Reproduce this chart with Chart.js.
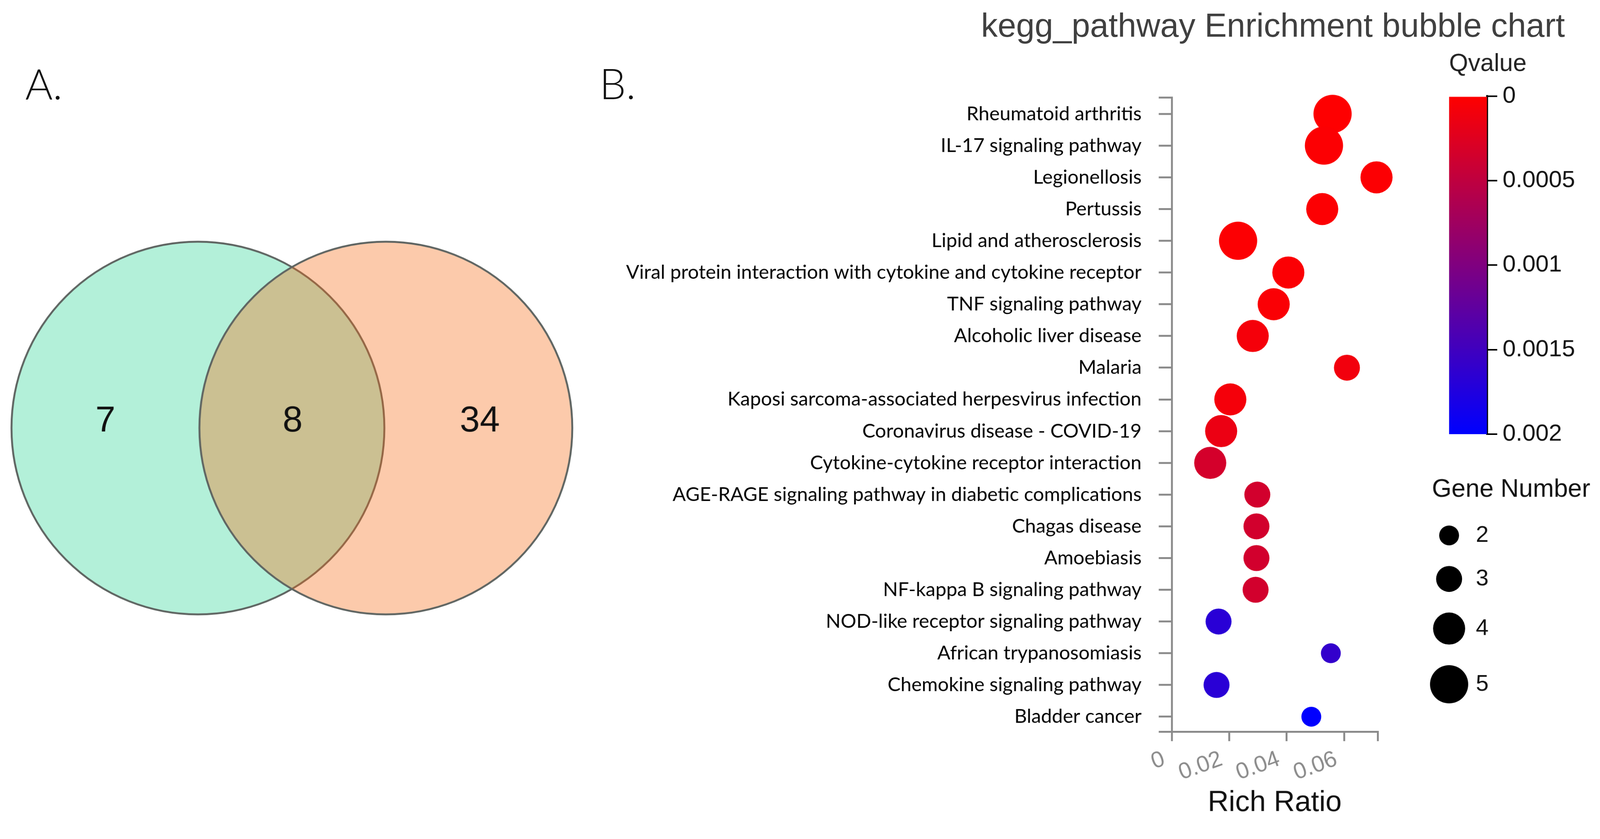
<!DOCTYPE html>
<html>
<head>
<meta charset="utf-8">
<script src="https://cdn.jsdelivr.net/npm/chart.js@4/dist/chart.umd.min.js"></script>
<style>
  html, body { margin: 0; padding: 0; background: #ffffff; overflow: hidden; width: 100%; height: 100%; }
  #stage { position: absolute; left: 0; top: 0; width: 4188px; height: 2149px; transform-origin: 0 0; background: #fff; }
  .box { position: absolute; }
  .txt { position: absolute; line-height: 1; white-space: nowrap; }
  .panel { font-family: 'Lato', sans-serif; font-weight: 300; font-size: 110px; color: #111; }
</style>
</head>
<body>
<div id="stage">
  <div class="txt panel" style="left:66px; top:163px;">A.</div>
  <div class="txt panel" style="left:1569px; top:162px;">B.</div>
  <div class="txt" style="left:2332px; width:2000px; top:22px; text-align:center; font-family:'Liberation Sans', Arial, sans-serif; font-size:87px; color:#404040;">kegg_pathway Enrichment bubble chart</div>

  <div class="box" style="left:0; top:600px; width:1528px; height:1042px;"><canvas id="venn"></canvas></div>
  <div class="box" style="left:1500px; top:200px; width:2200px; height:1949px;"><canvas id="bubble"></canvas></div>
  <div class="box" style="left:3793px; top:130px; width:395px; height:1047px;"><canvas id="cbar"></canvas></div>
  <div class="box" style="left:3700px; top:1243px; width:488px; height:640px;"><canvas id="glegend"></canvas></div>
</div>

<script>
// ---------------- DATA ----------------
const pathways = [
  'Rheumatoid arthritis',
  'IL-17 signaling pathway',
  'Legionellosis',
  'Pertussis',
  'Lipid and atherosclerosis',
  'Viral protein interaction with cytokine and cytokine receptor',
  'TNF signaling pathway',
  'Alcoholic liver disease',
  'Malaria',
  'Kaposi sarcoma-associated herpesvirus infection',
  'Coronavirus disease - COVID-19',
  'Cytokine-cytokine receptor interaction',
  'AGE-RAGE signaling pathway in diabetic complications',
  'Chagas disease',
  'Amoebiasis',
  'NF-kappa B signaling pathway',
  'NOD-like receptor signaling pathway',
  'African trypanosomiasis',
  'Chemokine signaling pathway',
  'Bladder cancer'
];
const richRatio = [0.0560, 0.0530, 0.0713, 0.0524, 0.0231, 0.0406, 0.0355, 0.0282, 0.0610, 0.0204,
                   0.0172, 0.0134, 0.0298, 0.0295, 0.0295, 0.0292, 0.0163, 0.0554, 0.0156, 0.0486];
const geneNumber = [5, 5, 4, 4, 5, 4, 4, 4, 3, 4, 4, 4, 3, 3, 3, 3, 3, 2, 3, 2];
const qValue = [0.00001, 0.00002, 0.00002, 0.00002, 0.00002, 0.00003, 0.00004, 0.00008, 0.00010, 0.00008,
                0.00015, 0.00034, 0.00035, 0.00035, 0.00035, 0.00035, 0.00168, 0.00160, 0.00168, 0.00199];

const xTicks = [0, 0.02, 0.04, 0.06];
const xTickLabels = ['0', '0.02', '0.04', '0.06'];
const xMax = 0.0717;

const qTicks = [0, 0.0005, 0.001, 0.0015, 0.002];
const qTickLabels = ['0', '0.0005', '0.001', '0.0015', '0.002'];

const geneLevels = [2, 3, 4, 5];
const geneLevelLabels = ['2', '3', '4', '5'];

// Venn: counts of left-only, shared, right-only
const vennRegions = ['left only', 'both', 'right only'];
const vennCounts = [7, 8, 34];

// ---------------- FIT STAGE TO VIEWPORT ----------------
const stage = document.getElementById('stage');
const fit = Math.min(window.innerWidth / 4188, window.innerHeight / 2149);
stage.style.transform = 'scale(' + fit + ')';

// ---------------- HELPERS ----------------
const qMin = qTicks[0], qMax = qTicks[qTicks.length - 1];
function qColor(q) {
  const t = Math.max(0, Math.min(1, (q - qMin) / (qMax - qMin)));
  return 'rgb(' + Math.round(255 * (1 - t)) + ',0,' + Math.round(255 * t) + ')';
}
function geneRadius(n) { return 10 + 8 * n; }
const SANS = "'Liberation Sans', Arial, sans-serif";
const AXIS_GRAY = '#8a8a8a';
function noScalePadding(s) { s.paddingTop = 0; s.paddingBottom = 0; s.paddingLeft = 0; s.paddingRight = 0; }

Chart.defaults.animation = false;
Chart.defaults.responsive = true;
Chart.defaults.maintainAspectRatio = false;
Chart.defaults.plugins.legend.display = false;
Chart.defaults.plugins.tooltip.enabled = false;

// ---------------- VENN ----------------
const VENN_R = 488;          // circle radius in px
const centerGap = 1.008;     // distance between circle centres, in radius units
const vennLabelPlugin = {
  id: 'vennLabels',
  afterDatasetsDraw(chart) {
    const {ctx, scales} = chart;
    const xs = [-centerGap / 2 - 0.5, 0, centerGap / 2 + 0.5];
    ctx.save();
    ctx.font = '94px ' + SANS;
    ctx.fillStyle = '#111';
    ctx.textAlign = 'center';
    ctx.textBaseline = 'middle';
    vennCounts.forEach((c, i) => {
      ctx.fillText(String(c), scales.x.getPixelForValue(xs[i] + 0.004), scales.y.getPixelForValue(0.035));
    });
    ctx.restore();
  }
};
new Chart(document.getElementById('venn'), {
  type: 'bubble',
  data: {
    datasets: [
      // first dataset is drawn on top
      { data: [{x: centerGap / 2, y: 0}], backgroundColor: 'rgba(247,106,21,0.355)', borderColor: '#5f6562', borderWidth: 5,
        radius: VENN_R, clip: false },
      { data: [{x: -centerGap / 2, y: 0}], backgroundColor: '#b3f0d9', borderColor: '#5f6562', borderWidth: 5,
        radius: VENN_R, clip: false }
    ]
  },
  options: {
    layout: { padding: 0, autoPadding: false },
    scales: {
      x: { display: false, min: -1.5656, max: 1.5656 },
      y: { display: false, min: -1.0676, max: 1.0676 }
    }
  },
  plugins: [vennLabelPlugin]
});

// ---------------- BUBBLE CHART ----------------
const yMin = -0.52, yMax = pathways.length - 1 + 0.47;
new Chart(document.getElementById('bubble'), {
  type: 'bubble',
  data: {
    datasets: [{
      data: pathways.map((p, i) => ({ x: richRatio[i], y: i, r: geneRadius(geneNumber[i]) })),
      backgroundColor: qValue.map(qColor),
      borderWidth: 0,
      clip: false
    }]
  },
  options: {
    layout: { padding: { left: 0, top: 55, right: 94, bottom: 0 }, autoPadding: false },
    scales: {
      x: {
        type: 'linear', position: 'bottom', min: 0, max: xMax,
        afterBuildTicks: s => { s.ticks = xTicks.map(v => ({ value: v })).concat([{ value: xMax }]); },
        afterFit: s => { s.height = 233; noScalePadding(s); },
        ticks: {
          autoSkip: false, minRotation: 20, maxRotation: 20, padding: 12, labelOffset: -20,
          color: '#8c8c8c', font: { family: SANS, size: 60 },
          callback: v => { const k = xTicks.indexOf(v); return k >= 0 ? xTickLabels[k] : ''; }
        },
        grid: { drawOnChartArea: false, drawTicks: true, tickLength: 25, color: AXIS_GRAY, lineWidth: 5 },
        border: { display: true, color: AXIS_GRAY, width: 5 },
        title: { display: true, text: 'Rich Ratio', color: '#111', font: { family: SANS, size: 76 }, padding: { top: 0, bottom: 0 } }
      },
      y: {
        type: 'linear', position: 'left', reverse: true, min: yMin, max: yMax,
        afterBuildTicks: s => { s.ticks = [{ value: yMin }].concat(pathways.map((p, i) => ({ value: i })), [{ value: yMax }]); },
        afterFit: s => { s.width = 1567; noScalePadding(s); },
        ticks: {
          autoSkip: false, padding: 45, color: '#000', font: { family: 'Lato', size: 51 },
          callback: v => (Number.isInteger(v) && pathways[v] !== undefined) ? pathways[v] : ''
        },
        grid: { drawOnChartArea: false, drawTicks: true, tickLength: 34, color: AXIS_GRAY, lineWidth: 5 },
        border: { display: true, color: AXIS_GRAY, width: 5 }
      }
    }
  }
});

// ---------------- COLOUR BAR ----------------
new Chart(document.getElementById('cbar'), {
  type: 'bar',
  data: {
    labels: ['Qvalue'],
    datasets: [{
      data: [qMax],
      barPercentage: 1, categoryPercentage: 1, borderWidth: 0,
      backgroundColor: ctx => {
        const area = ctx.chart.chartArea;
        if (!area) return qColor(qMin);
        const ys = ctx.chart.scales.y;
        const g = ctx.chart.ctx.createLinearGradient(0, ys.getPixelForValue(qMin), 0, ys.getPixelForValue(qMax));
        qTicks.forEach(q => g.addColorStop((q - qMin) / (qMax - qMin), qColor(q)));
        return g;
      }
    }]
  },
  options: {
    layout: { padding: { left: 0, right: 0, top: 0, bottom: 40 } },
    plugins: {
      title: { display: true, text: 'Qvalue', align: 'start', color: '#222', font: { family: SANS, size: 64, weight: 'normal' }, padding: { top: 0, bottom: 45 } }
    },
    scales: {
      x: { display: false },
      y: {
        position: 'right', reverse: true, min: qMin, max: qMax,
        afterBuildTicks: s => { s.ticks = qTicks.map(v => ({ value: v })); },
        afterFit: s => { s.width = 296; noScalePadding(s); },
        ticks: {
          autoSkip: false, padding: 14, color: '#111', font: { family: SANS, size: 62 },
          callback: v => { const k = qTicks.indexOf(v); return k >= 0 ? qTickLabels[k] : ''; }
        },
        grid: { drawOnChartArea: false, drawTicks: true, tickLength: 27, color: '#000', lineWidth: 4 },
        border: { display: true, color: '#000', width: 5 }
      }
    }
  }
});

// ---------------- GENE NUMBER LEGEND ----------------
// legend rows are stacked: centre spacing = r(i) + r(i+1) + gap (pixel units on the legend axis)
const LEGEND_GAP = 54;
const legendSlots = [];
geneLevels.forEach((n, i) => {
  legendSlots.push(i === 0 ? 0 : legendSlots[i - 1] + geneRadius(geneLevels[i - 1]) + geneRadius(n) + LEGEND_GAP);
});
new Chart(document.getElementById('glegend'), {
  type: 'bubble',
  data: {
    datasets: [{
      data: geneLevels.map((n, i) => ({ x: 0, y: legendSlots[i], r: geneRadius(n) })),
      backgroundColor: '#000', borderWidth: 0, clip: false
    }]
  },
  options: {
    layout: { padding: { left: 48, right: 0, top: 0, bottom: 0 }, autoPadding: false },
    plugins: {
      title: { display: true, text: 'Gene Number', align: 'start', color: '#111', font: { family: SANS, size: 66, weight: 'normal' }, padding: { top: 0, bottom: 28 } }
    },
    scales: {
      x: { display: false, min: -1, max: 1 },
      y: {
        position: 'right', reverse: true, min: -52, max: 481,
        afterBuildTicks: s => { s.ticks = legendSlots.map(v => ({ value: v })); },
        afterFit: s => { s.width = 350; noScalePadding(s); },
        ticks: {
          autoSkip: false, padding: 25, color: '#111', font: { family: SANS, size: 60 },
          callback: v => { const k = legendSlots.indexOf(v); return k >= 0 ? geneLevelLabels[k] : ''; }
        },
        grid: { display: false, drawTicks: false },
        border: { display: false }
      }
    }
  }
});
</script>
</body>
</html>
